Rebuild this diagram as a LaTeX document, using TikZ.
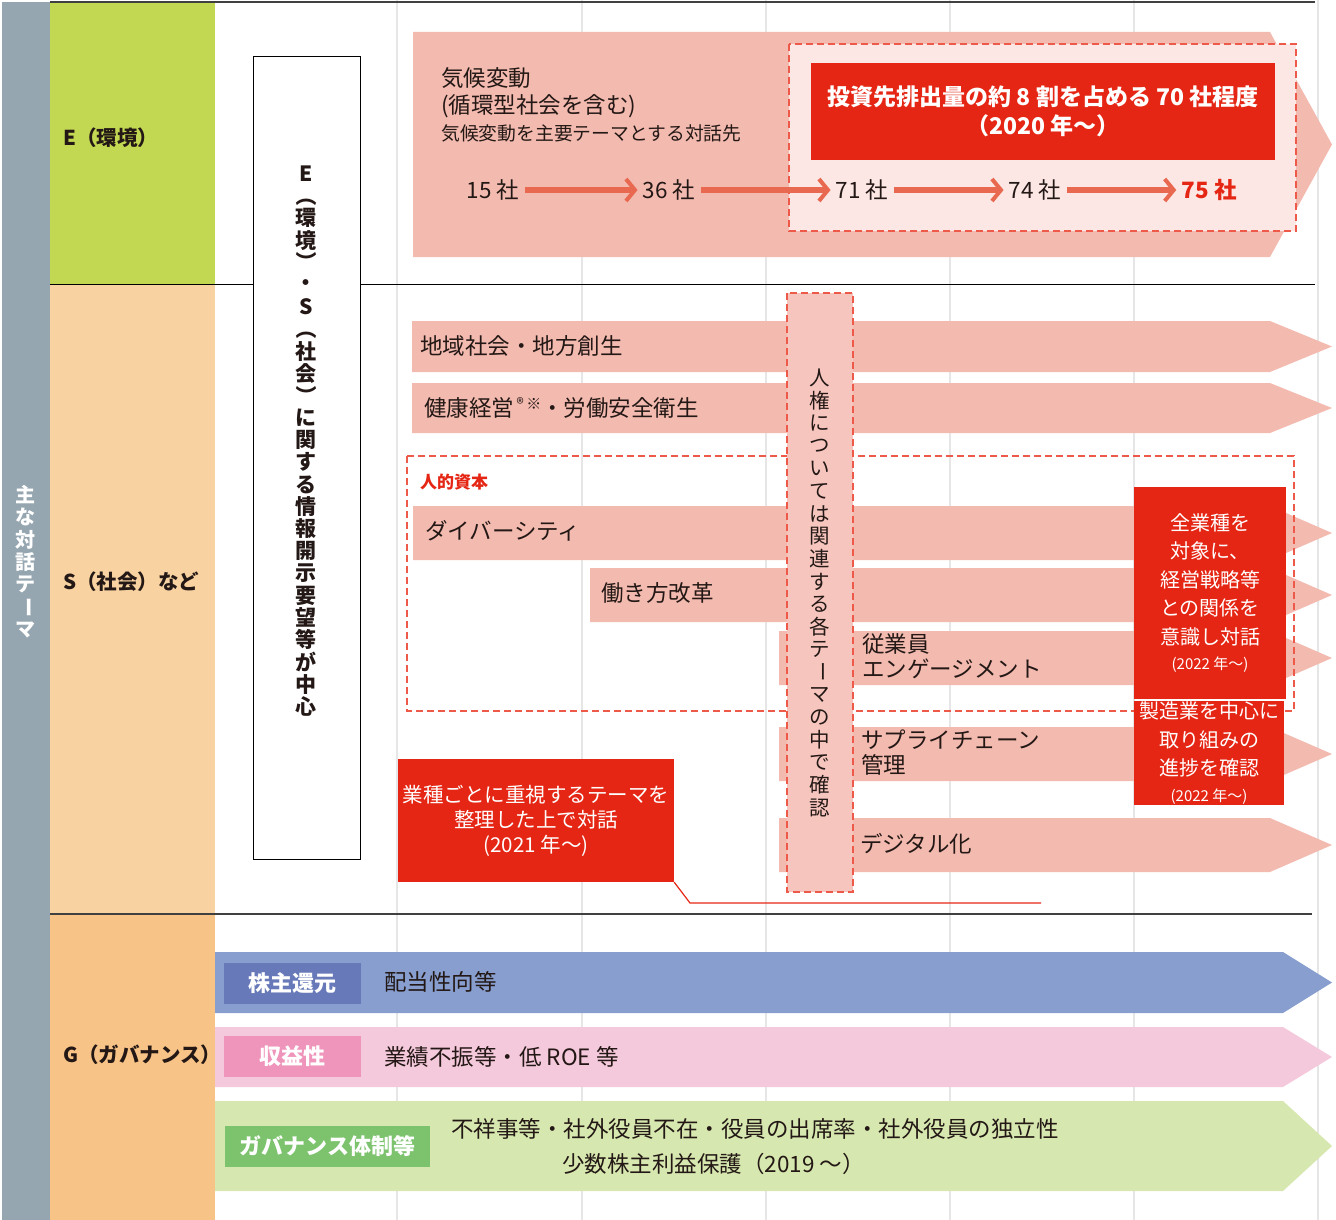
\documentclass[tikz,border=0pt]{standalone}
\usepackage{fontspec}
\setmainfont{Noto Sans CJK JP}
\usepackage{graphicx}
\usetikzlibrary{arrows.meta}
\definecolor{cgray}{HTML}{96A6B0}
\definecolor{cgreen}{HTML}{C3D852}
\definecolor{cpeach}{HTML}{F9D2A1}
\definecolor{corange}{HTML}{F8C386}
\definecolor{cpink}{HTML}{F3BAAF}
\definecolor{clight}{HTML}{FCE7E4}
\definecolor{cred}{HTML}{E52614}
\definecolor{ccoral}{HTML}{E8694F}
\definecolor{cband}{HTML}{F6C6BE}
\definecolor{cdash}{HTML}{EE5A4A}
\definecolor{cblue}{HTML}{879ECF}
\definecolor{cbluelab}{HTML}{6779B8}
\definecolor{cgpink}{HTML}{F5C9DC}
\definecolor{cgpinklab}{HTML}{EF94BA}
\definecolor{cggreen}{HTML}{D6E7AF}
\definecolor{cggreenlab}{HTML}{7DC36E}
\definecolor{cgrid}{HTML}{E6E6E6}
\definecolor{ctext}{HTML}{231815}
\newcommand\vrot[1]{\rotatebox[origin=c]{-90}{#1}}
\makeatletter
\newcommand\vtext[2]{\vbox{\offinterlineskip\@tfor\vt@c:=#2\do{\hbox to 1.2em{\hss\vbox to #1{\vss\hbox{\vt@c}\vss}\hss}}}}
\makeatother
\newcommand\bandarrow[6]{\fill[#1] (#2,#3) -- (#5,#3) -- (#6,{(#3+#4)/2}) -- (#5,#4) -- (#2,#4) -- cycle;}
\tikzset{
 body/.style={text=ctext, inner sep=0pt, font=\fontsize{22.5}{26}\selectfont},
 bodytwo/.style={text=ctext, inner sep=0pt, align=left, font=\fontsize{22.5}{25}\selectfont},
 collab/.style={text=ctext, inner sep=0pt, anchor=west, font=\bfseries\fontsize{20.5}{24}\selectfont},
 cntn/.style={text=ctext, inner sep=4pt, font=\fontsize{22.5}{26}\selectfont},
 cnt/.style={draw=ccoral, line width=5.5pt, -{Straight Barb[length=9pt,width=22pt,line width=4pt]}, shorten <=2pt, shorten >=1pt},
 dashbox/.style={draw=cdash, line width=1.6pt, dash pattern=on 7pt off 4pt},
 redbox/.style={fill=cred, text=white, inner sep=0pt, align=center},
 glab/.style={text=white, inner sep=0pt, minimum height=41pt, font=\bfseries\fontsize{22}{26}\selectfont},
}
\begin{document}
\begin{tikzpicture}[x=1pt,y=-1pt]
\useasboundingbox (0,0) rectangle (1336,1220);
% grid lines
\foreach \gx in {397,582,766,950,1134,1318} \draw[cgrid, line width=2pt] (\gx,0) -- (\gx,1220);
% left columns
\fill[cgray] (2,2) rectangle (50,1220);
\fill[cgreen] (50,2) rectangle (215,284);
\fill[cpeach] (50,284) rectangle (215,914);
\fill[corange] (50,914) rectangle (215,1220);
\draw[black!75, line width=1.5pt] (50,2) -- (1315,2);
\draw[black, line width=1pt] (50,284) -- (1315,284);
\draw[black!75, line width=1.5pt] (50,914) -- (1312,914);
\node[text=white, inner sep=0pt, font=\bfseries\fontsize{20}{20}\selectfont] (theme) at (26,562) {\vtext{22.5pt}{主な対話テ{\vrot{ー}}マ}};
\node[collab] (tE) at (63,138) {E（環境）};
\node[collab] (tS) at (63,582) {S（社会）など};
\node[collab] (tG) at (63,1055) {G（ガバナンス）};
% vertical info box
\node[draw=black, line width=1pt, fill=white, minimum width=107pt, minimum height=802pt, inner sep=0pt] (infobox) at (306.5,458) {};
\node[text=ctext, inner sep=0pt, font=\bfseries\fontsize{21}{21}\selectfont] (infotxt) at (306,440) {\vtext{22.2pt}{E{\vrot{（}}環境{\vrot{）}}・S{\vrot{（}}社会{\vrot{）}}に関する情報開示要望等が中心}};
% ===== E section =====
\bandarrow{cpink}{413}{32}{257}{1270}{1332}
\fill[clight] (789,44) rectangle (1296,231);
\draw[dashbox] (789,44) rectangle (1296,231);
\node[redbox, minimum width=464pt, minimum height=97pt, font=\bfseries\fontsize{23}{29}\selectfont] (e70) at (1043,111.5) {投資先排出量の約 8 割を占める 70 社程度\\（2020 年～）};
\node[body, anchor=west] (k1) at (441,78) {気候変動};
\node[body, anchor=west] (k2) at (441,106) {(循環型社会を含む)};
\node[body, anchor=west, font=\fontsize{18.8}{22}\selectfont] (k3) at (441,133) {気候変動を主要テーマとする対話先};
\node[cntn] (c15) at (493,190) {15 社};
\node[cntn] (c36) at (669,190) {36 社};
\node[cntn] (c71) at (862,190) {71 社};
\node[cntn] (c74) at (1035,190) {74 社};
\node[cntn, text=cred, font=\bfseries\fontsize{22.5}{26}\selectfont] (c75) at (1209,190) {75 社};
\draw[cnt] (c15) -- (c36);
\draw[cnt] (c36) -- (c71);
\draw[cnt] (c71) -- (c74);
\draw[cnt] (c74) -- (c75);
% ===== S section =====
\bandarrow{cpink}{412}{321}{372}{1270}{1332}
\bandarrow{cpink}{412}{383}{433}{1270}{1332}
\bandarrow{cpink}{413}{506}{560}{1270}{1332}
\bandarrow{cpink}{590}{568}{622}{1270}{1332}
\bandarrow{cpink}{779}{631}{685}{1270}{1332}
\bandarrow{cpink}{779}{727}{781}{1270}{1332}
\bandarrow{cpink}{779}{818}{872}{1270}{1332}
\draw[dashbox] (407,456) rectangle (1294,711);
\node[anchor=west, inner sep=0pt, text=cred, font=\bfseries\fontsize{17}{20}\selectfont] (hc) at (420,482) {人的資本};
\node[body, anchor=west] (s1) at (420,346) {地域社会・地方創生};
\node[body, anchor=west] (s2) at (424,408) {健康経営\raisebox{7pt}{\fontsize{15}{15}\selectfont\,®\,※}・労働安全衛生};
\node[body, anchor=west] (s3) at (425,531) {ダイバーシティ};
\node[body, anchor=west] (s4) at (601,593) {働き方改革};
\node[bodytwo, anchor=west] (s5) at (862,656) {従業員\\エンゲージメント};
\node[bodytwo, anchor=west] (s6) at (861,753) {サプライチェーン\\管理};
\node[body, anchor=west] (s7) at (860,844) {デジタル化};
% human rights band
\fill[cband] (787,293) rectangle (853,892);
\draw[dashbox] (787,293) rectangle (853,892);
\node[text=ctext, inner sep=0pt, font=\fontsize{20.5}{20}\selectfont] (hr) at (820,593) {\vtext{22.6pt}{人権については関連する各テ{\vrot{ー}}マの中で確認}};
% red boxes
\node[redbox, minimum width=152pt, minimum height=212pt, font=\fontsize{20}{28.5}\selectfont] (rb1) at (1210,593) {全業種を\\対象に、\\経営戦略等\\との関係を\\意識し対話\\[-3pt]{\fontsize{15}{15}\selectfont (2022 年～)}};
\node[redbox, minimum width=150pt, minimum height=104pt, font=\fontsize{20}{28.5}\selectfont] (rb2) at (1209,753) {製造業を中心に\\取り組みの\\進捗を確認\\[-3pt]{\fontsize{15}{15}\selectfont (2022 年～)}};
\node[redbox, minimum width=276pt, minimum height=123pt, font=\fontsize{20.5}{25}\selectfont] (rb3) at (536,820.5) {業種ごとに重視するテーマを\\整理した上で対話\\(2021 年～)};
\coordinate (rlend) at (1041,903);
\draw[cred, line width=1.2pt] (rb3.south east) -- (690,903) -- (rlend);
% ===== G section =====
\bandarrow{cblue}{215}{952}{1013}{1283}{1332}
\bandarrow{cgpink}{215}{1027}{1087}{1283}{1332}
\bandarrow{cggreen}{215}{1101}{1191}{1283}{1332}
\node[glab, fill=cbluelab, minimum width=137pt] (g1) at (292.5,983) {株主還元};
\node[glab, fill=cgpinklab, minimum width=137pt] (g2) at (292.5,1056.5) {収益性};
\node[glab, fill=cggreenlab, minimum width=205pt] (g3) at (327.5,1146.5) {ガバナンス体制等};
\node[body, anchor=west] (g1t) at (384,982) {配当性向等};
\node[body, anchor=west] (g2t) at (384,1057) {業績不振等・低 ROE 等};
\node[body, anchor=west] (g3t) at (451,1129) {不祥事等・社外役員不在・役員の出席率・社外役員の独立性};
\node[body, anchor=west] (g3u) at (562,1164) {少数株主利益保護（2019 ～）};
\end{tikzpicture}
\end{document}
